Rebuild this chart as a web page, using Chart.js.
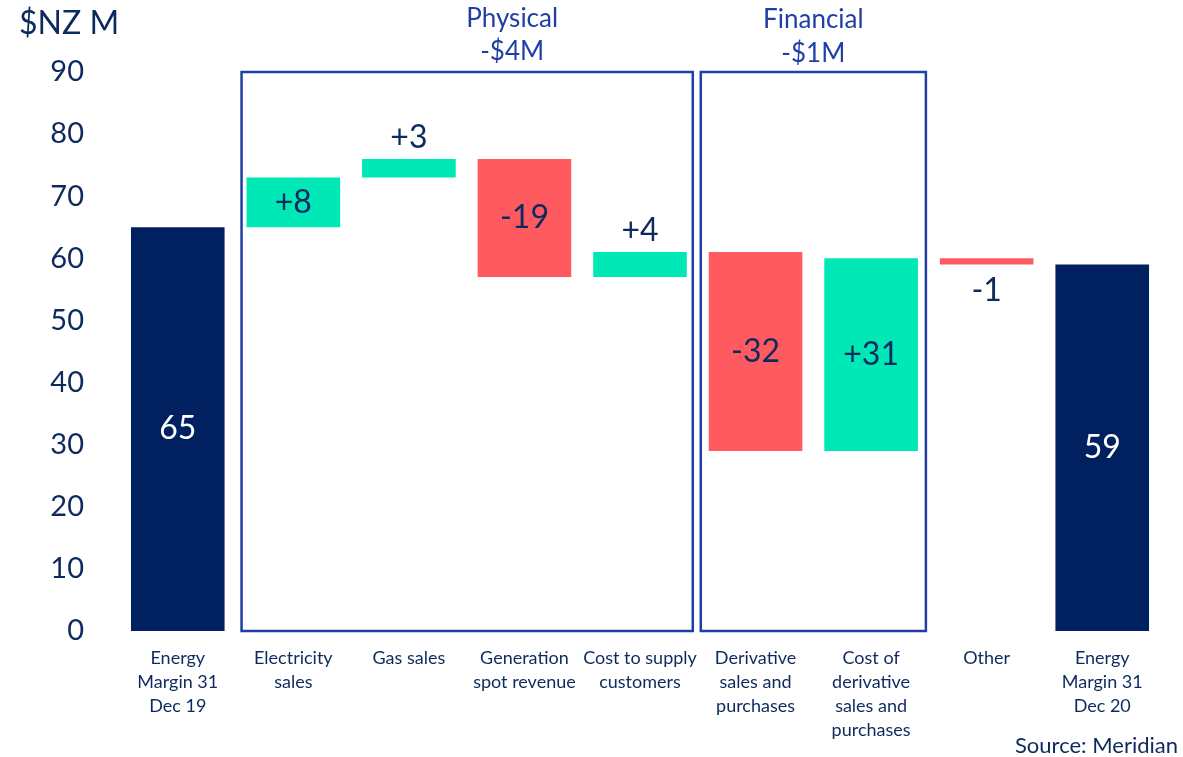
<!DOCTYPE html>
<html>
<head>
<meta charset="utf-8">
<script src="https://cdn.jsdelivr.net/npm/chart.js@4"></script>
<style>
  html, body { margin: 0; padding: 0; background: #fff; }
  #wrap { width: 1183px; height: 757px; position: relative; }
</style>
</head>
<body>
<div id="wrap"><canvas id="chart"></canvas></div>
<script>
// values
const categories = [
  ['Energy', 'Margin 31', 'Dec 19'],
  ['Electricity', 'sales'],
  ['Gas sales'],
  ['Generation', 'spot revenue'],
  ['Cost to supply', 'customers'],
  ['Derivative', 'sales and', 'purchases'],
  ['Cost of', 'derivative', 'sales and', 'purchases'],
  ['Other'],
  ['Energy', 'Margin 31', 'Dec 20'],
];
const barLow = [0, 65, 73, 57, 57, 29, 29, 59, 0];
const barHigh = [65, 73, 76, 76, 61, 61, 60, 60, 59];
const barKind = ['total', 'up', 'up', 'down', 'up', 'down', 'up', 'down', 'total'];
const valueLabels = ['65', '+8', '+3', '-19', '+4', '-32', '+31', '-1', '59'];
const labelPlace = ['mid', 'mid', 'above', 'mid', 'above', 'mid', 'mid', 'below', 'mid'];
const yTicks = [0, 10, 20, 30, 40, 50, 60, 70, 80, 90];
const groups = [
  { title: ['Physical', '-$4M'], from: 1, to: 4, titleShift: 45 },
  { title: ['Financial', '-$1M'], from: 5, to: 6, titleShift: 0 },
];

const NAVY = '#002060';
const TEXT = '#0d2a5e';
const BLUE = '#1f3fa6';
const kindColor = { total: NAVY, up: '#00e8b5', down: '#ff5a5f' };
const FONT = 'Lato, "Open Sans", sans-serif';

const groupBoxes = {
  id: 'groupBoxes',
  beforeDatasetsDraw(chart) {
    const { ctx, scales: { x, y } } = chart;
    const step = x.getPixelForValue(1) - x.getPixelForValue(0);
    ctx.save();
    groups.forEach((g, gi) => {
      const left = x.getPixelForValue(g.from) - step / 2 + (gi === 0 ? 6 : 3);
      const right = x.getPixelForValue(g.to) + step / 2 - (gi === 0 ? 5 : 3);
      const top = y.getPixelForValue(90);
      const bottom = y.getPixelForValue(0);
      ctx.strokeStyle = BLUE;
      ctx.lineWidth = 2.5;
      ctx.strokeRect(left, top, right - left, bottom - top);
      ctx.fillStyle = BLUE;
      ctx.font = '26px ' + FONT;
      ctx.textAlign = 'center';
      ctx.textBaseline = 'middle';
      const cx = (left + right) / 2 + g.titleShift;
      ctx.fillText(g.title[0], cx, top - 53 + (gi === 1 ? 1 : 0));
      ctx.fillText(g.title[1], cx, top - 20 + (gi === 1 ? 2 : 0));
    });
    ctx.restore();
  },
};

const extraText = {
  id: 'extraText',
  afterDraw(chart) {
    const { ctx, scales: { x, y } } = chart;
    ctx.save();
    ctx.textAlign = 'center';
    ctx.textBaseline = 'middle';
    ctx.font = '32px ' + FONT;
    valueLabels.forEach((t, i) => {
      const cx = x.getPixelForValue(i);
      const yTop = y.getPixelForValue(barHigh[i]);
      const yBot = y.getPixelForValue(barLow[i]);
      let cy = (yTop + yBot) / 2;
      if (labelPlace[i] === 'above') cy = yTop - 21;
      if (labelPlace[i] === 'below') cy = yBot + 26;
      ctx.fillStyle = barKind[i] === 'total' ? '#ffffff' : TEXT;
      ctx.fillText(t, cx, cy);
    });
    // axis unit
    ctx.fillStyle = TEXT;
    ctx.textAlign = 'left';
    ctx.font = '32px ' + FONT;
    ctx.fillText('$NZ M', 19, 24);
    // source
    ctx.textAlign = 'right';
    ctx.font = '22px ' + FONT;
    ctx.fillText('Source: Meridian', 1178, 746);
    ctx.restore();
  },
};

new Chart(document.getElementById('chart'), {
  type: 'bar',
  data: {
    labels: categories,
    datasets: [{
      data: barLow.map((lo, i) => [lo, barHigh[i]]),
      backgroundColor: barKind.map((k) => kindColor[k]),
      borderWidth: 0,
      borderSkipped: false,
      barPercentage: 0.81,
      categoryPercentage: 1,
    }],
  },
  options: {
    responsive: true,
    maintainAspectRatio: false,
    animation: false,
    layout: { padding: { top: 72, right: 23, left: 0, bottom: 0 } },
    plugins: {
      legend: { display: false },
      tooltip: { enabled: false },
    },
    scales: {
      x: {
        grid: { display: false, drawTicks: false },
        border: { display: false },
        ticks: {
          color: TEXT,
          font: { family: FONT, size: 18, lineHeight: 1.33 },
          padding: 15,
          maxRotation: 0,
          autoSkip: false,
        },
        afterFit(scale) { scale.height = 126; },
      },
      y: {
        min: 0,
        max: 90,
        grid: { display: false, drawTicks: false },
        border: { display: false },
        afterBuildTicks(scale) { scale.ticks = yTicks.map((v) => ({ value: v })); },
        ticks: {
          color: TEXT,
          font: { family: FONT, size: 29 },
          padding: 36,
        },
        afterFit(scale) { scale.width = 120; },
      },
    },
  },
  plugins: [groupBoxes, extraText],
});
</script>
</body>
</html>
